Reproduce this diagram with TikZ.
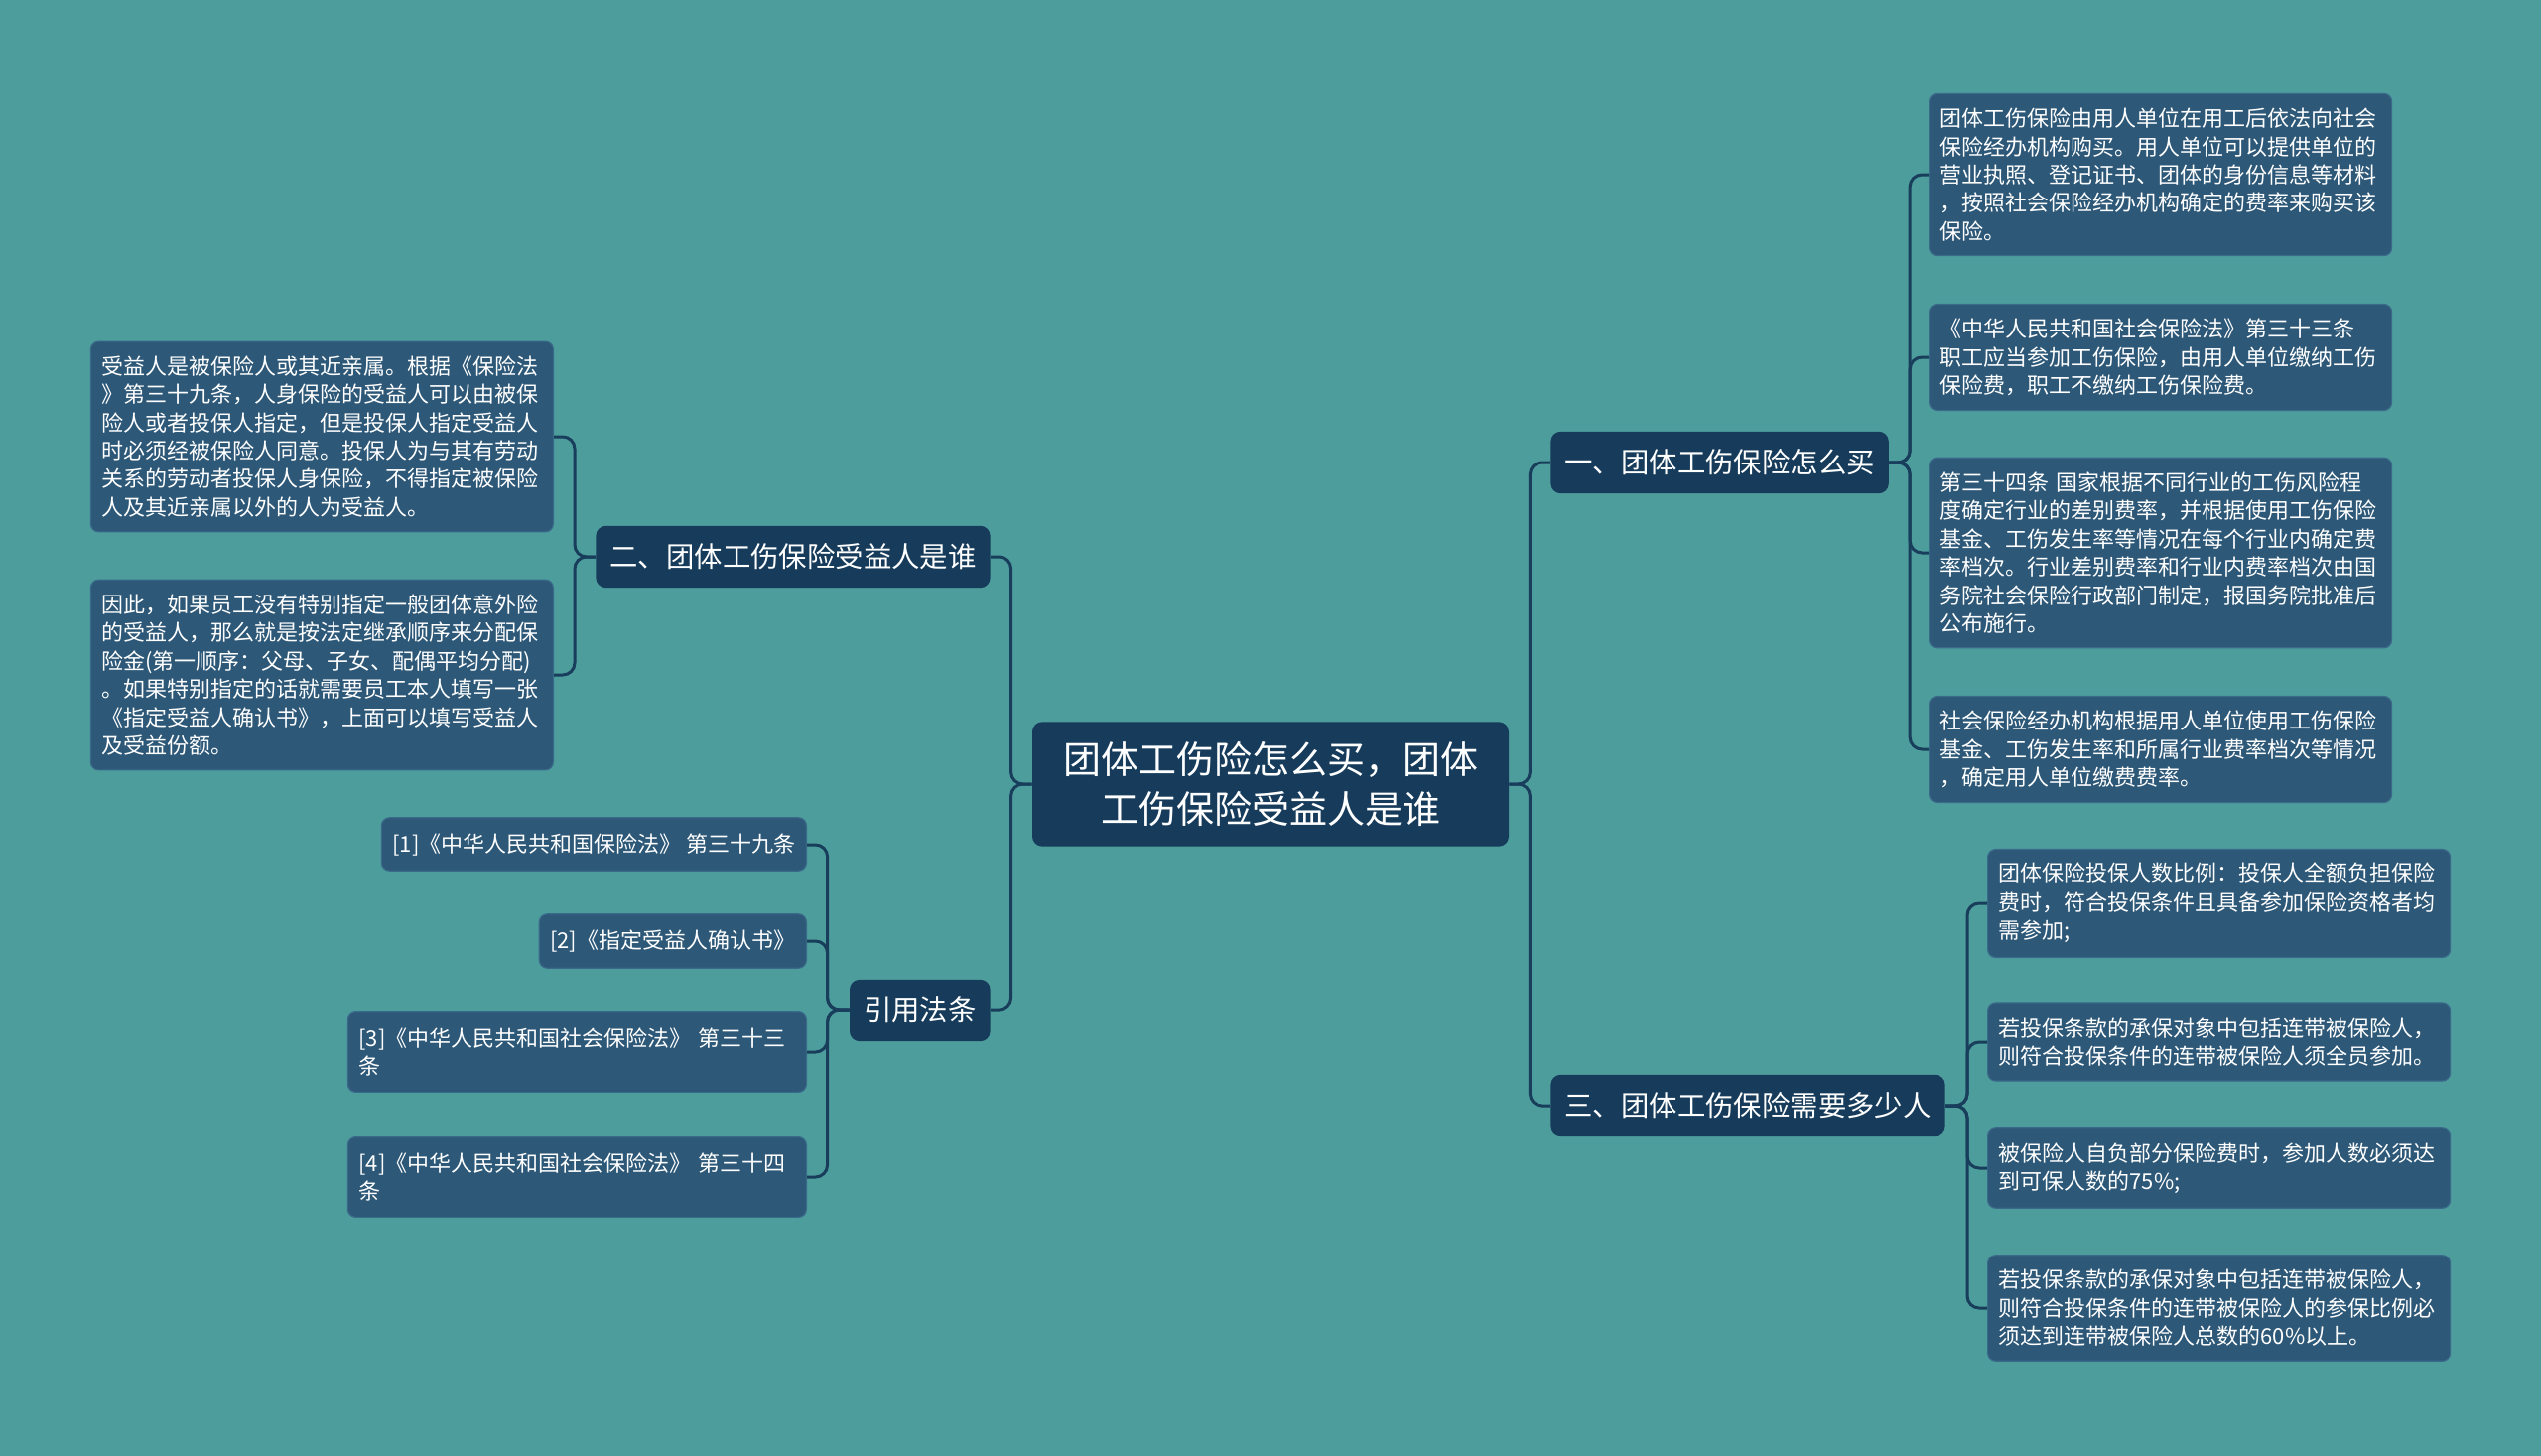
\documentclass[tikz,border=0pt]{standalone}
\usepackage{fontspec}
\setmainfont{Noto Sans CJK SC}
\definecolor{bgteal}{RGB}{78,157,157}
\definecolor{navy}{RGB}{23,60,91}
\definecolor{leafblue}{RGB}{45,88,120}
\definecolor{leafedge}{RGB}{58,105,138}
\definecolor{linkcol}{RGB}{24,62,92}

\begin{document}
\begin{tikzpicture}[x=0.5pt, y=-0.5pt,
  rootbox/.style={fill=navy, rounded corners=5pt, text=white, font=\fontsize{19}{25}\selectfont, align=center, text width=212pt, inner xsep=14pt, inner ysep=10pt},
  topicbox/.style={fill=navy, rounded corners=5pt, text=white, font=\fontsize{14.2}{17}\selectfont, inner xsep=7pt, inner ysep=9pt},
  leafbox/.style={fill=leafblue, draw=leafedge, line width=0.6pt, rounded corners=4pt, text=white, font=\fontsize{11}{14.2}\selectfont, align=left, text width=222pt, inner xsep=5.5pt, inner ysep=7.3pt},
  refbox/.style={fill=leafblue, draw=leafedge, line width=0.6pt, rounded corners=4pt, text=white, font=\fontsize{11}{14.2}\selectfont, align=left, inner xsep=5.5pt, inner ysep=8pt},
  link/.style={draw=linkcol, line width=1.5pt, rounded corners=6pt}]
\fill[bgteal] (0,0) rectangle (2560,1467);
\useasboundingbox (0,0) rectangle (2560,1467);

\node[rootbox] (root) at (1280,790) {团体工伤险怎么买，团体\\工伤保险受益人是谁};

\node[topicbox, anchor=west] (buy) at (1562,466) {一、团体工伤保险怎么买};
\node[topicbox, anchor=west] (count) at (1562,1114) {三、团体工伤保险需要多少人};
\node[topicbox, anchor=east] (who) at (998,561) {二、团体工伤保险受益人是谁};
\node[topicbox, anchor=east] (laws) at (998,1018) {引用法条};

\node[leafbox, anchor=west] (buya) at (1943,176) {团体工伤保险由用人单位在用工后依法向社会\\保险经办机构购买。用人单位可以提供单位的\\营业执照、登记证书、团体的身份信息等材料\\，按照社会保险经办机构确定的费率来购买该\\保险。};
\node[leafbox, anchor=west] (buyb) at (1943,360) {《中华人民共和国社会保险法》第三十三条\\职工应当参加工伤保险，由用人单位缴纳工伤\\保险费，职工不缴纳工伤保险费。};
\node[leafbox, anchor=west] (buyc) at (1943,557) {第三十四条 国家根据不同行业的工伤风险程\\度确定行业的差别费率，并根据使用工伤保险\\基金、工伤发生率等情况在每个行业内确定费\\率档次。行业差别费率和行业内费率档次由国\\务院社会保险行政部门制定，报国务院批准后\\公布施行。};
\node[leafbox, anchor=west] (buyd) at (1943,755) {社会保险经办机构根据用人单位使用工伤保险\\基金、工伤发生率和所属行业费率档次等情况\\，确定用人单位缴费费率。};

\node[leafbox, anchor=west] (counta) at (2002,910) {团体保险投保人数比例：投保人全额负担保险\\费时，符合投保条件且具备参加保险资格者均\\需参加;};
\node[leafbox, anchor=west] (countb) at (2002,1050) {若投保条款的承保对象中包括连带被保险人，\\则符合投保条件的连带被保险人须全员参加。};
\node[leafbox, anchor=west] (countc) at (2002,1177) {被保险人自负部分保险费时，参加人数必须达\\到可保人数的75\%;};
\node[leafbox, anchor=west] (countd) at (2002,1318) {若投保条款的承保对象中包括连带被保险人，\\则符合投保条件的连带被保险人的参保比例必\\须达到连带被保险人总数的60\%以上。};

\node[leafbox, anchor=east] (whoa) at (558,440) {受益人是被保险人或其近亲属。根据《保险法\\》第三十九条，人身保险的受益人可以由被保\\险人或者投保人指定，但是投保人指定受益人\\时必须经被保险人同意。投保人为与其有劳动\\关系的劳动者投保人身保险，不得指定被保险\\人及其近亲属以外的人为受益人。};
\node[leafbox, anchor=east] (whob) at (558,680) {因此，如果员工没有特别指定一般团体意外险\\的受益人，那么就是按法定继承顺序来分配保\\险金(第一顺序：父母、子女、配偶平均分配)\\。如果特别指定的话就需要员工本人填写一张\\《指定受益人确认书》，上面可以填写受益人\\及受益份额。};

\node[refbox, anchor=east] (lawa) at (813,851) {[1]《中华人民共和国保险法》 第三十九条};
\node[refbox, anchor=east] (lawb) at (813,948) {[2]《指定受益人确认书》};
\node[refbox, anchor=east, text width=220pt] (lawc) at (813,1060) {[3]《中华人民共和国社会保险法》 第三十三\\条};
\node[refbox, anchor=east, text width=220pt] (lawd) at (813,1186) {[4]《中华人民共和国社会保险法》 第三十四\\条};

\draw[link] (root.east) -- ++(21,0) |- (buy.west);
\draw[link] (root.east) -- ++(21,0) |- (count.west);
\draw[link] (root.west) -- ++(-21,0) |- (who.east);
\draw[link] (root.west) -- ++(-21,0) |- (laws.east);

\draw[link] (buy.east) -- ++(21,0) |- (buya.west);
\draw[link] (buy.east) -- ++(21,0) |- (buyb.west);
\draw[link] (buy.east) -- ++(21,0) |- (buyc.west);
\draw[link] (buy.east) -- ++(21,0) |- (buyd.west);

\draw[link] (count.east) -- ++(22,0) |- (counta.west);
\draw[link] (count.east) -- ++(22,0) |- (countb.west);
\draw[link] (count.east) -- ++(22,0) |- (countc.west);
\draw[link] (count.east) -- ++(22,0) |- (countd.west);

\draw[link] (who.west) -- ++(-21,0) |- (whoa.east);
\draw[link] (who.west) -- ++(-21,0) |- (whob.east);

\draw[link] (laws.west) -- ++(-22,0) |- (lawa.east);
\draw[link] (laws.west) -- ++(-22,0) |- (lawb.east);
\draw[link] (laws.west) -- ++(-22,0) |- (lawc.east);
\draw[link] (laws.west) -- ++(-22,0) |- (lawd.east);
\end{tikzpicture}
\end{document}
